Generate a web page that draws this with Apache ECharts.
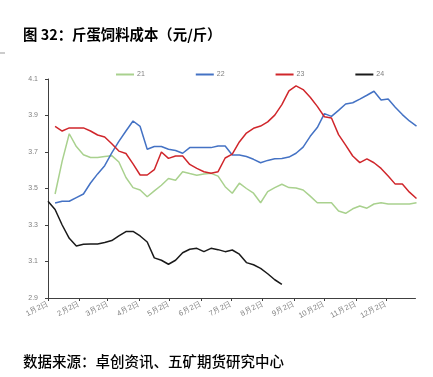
<!DOCTYPE html>
<html>
<head>
<meta charset="utf-8">
<script src="https://cdn.jsdelivr.net/npm/echarts@6/dist/echarts.min.js"></script>
<style>
html,body{margin:0;padding:0;background:#fff;}
#c{width:433px;height:377px;}
</style>
</head>
<body>
<div id="c"></div>
<script>
// Weekly values, week 0 = 1月2日, one point every 7 days
const seriesNames = ['21', '22', '23', '24'];
const s21 = [null, 3.47, 3.65, 3.80, 3.73, 3.685, 3.67, 3.67, 3.675, 3.68, 3.645, 3.56, 3.505, 3.492, 3.455, 3.487, 3.518, 3.555, 3.545, 3.592, 3.582, 3.573, 3.58, 3.583, 3.568, 3.51, 3.474, 3.529, 3.50, 3.474, 3.422, 3.483, 3.505, 3.523, 3.505, 3.503, 3.492, 3.458, 3.422, 3.422, 3.422, 3.377, 3.364, 3.389, 3.404, 3.392, 3.415, 3.422, 3.415, 3.415, 3.415, 3.415, 3.422];
const s22 = [null, 3.42, 3.43, 3.43, 3.45, 3.47, 3.53, 3.58, 3.625, 3.695, 3.758, 3.815, 3.87, 3.84, 3.715, 3.73, 3.73, 3.715, 3.708, 3.693, 3.724, 3.724, 3.724, 3.724, 3.733, 3.733, 3.684, 3.684, 3.675, 3.66, 3.641, 3.654, 3.663, 3.665, 3.672, 3.693, 3.727, 3.786, 3.834, 3.91, 3.895, 3.928, 3.963, 3.97, 3.99, 4.011, 4.033, 3.985, 3.99, 3.945, 3.905, 3.87, 3.842];
const s23 = [null, 3.84, 3.815, 3.832, 3.832, 3.832, 3.815, 3.793, 3.782, 3.745, 3.705, 3.692, 3.635, 3.574, 3.574, 3.603, 3.70, 3.665, 3.678, 3.678, 3.632, 3.61, 3.592, 3.583, 3.592, 3.667, 3.688, 3.755, 3.804, 3.83, 3.842, 3.865, 3.902, 3.96, 4.035, 4.062, 4.042, 4.0, 3.95, 3.893, 3.886, 3.795, 3.738, 3.678, 3.642, 3.662, 3.641, 3.61, 3.569, 3.524, 3.524, 3.48, 3.445];
const s24 = [3.43, 3.385, 3.30, 3.227, 3.185, 3.195, 3.196, 3.196, 3.204, 3.215, 3.24, 3.264, 3.265, 3.24, 3.207, 3.12, 3.107, 3.085, 3.107, 3.148, 3.167, 3.172, 3.154, 3.172, 3.165, 3.154, 3.163, 3.14, 3.094, 3.082, 3.062, 3.033, 3.0, 2.975];
const colors = ['#a9d18e', '#4472c4', '#d0262b', '#1a1a1a'];
const yMin = 2.9, yMax = 4.1, yStep = 0.2;
const monthDays = [31, 28, 31, 30, 31, 30, 31, 31, 30, 31, 30, 31];

// daily categories from 1月2日 to 12月31日
const categories = [];
for (let m = 0; m < 12; m++) {
  for (let d = (m === 0 ? 2 : 1); d <= monthDays[m]; d++) {
    categories.push((m + 1) + '月' + d + '日');
  }
}
const isTick = (idx, val) => /^\d+月2日$/.test(val);
const toPairs = arr => arr.map((v, i) => v == null ? null : [i * 7, v]).filter(p => p);

const chart = echarts.init(document.getElementById('c'));
const allData = [s21, s22, s23, s24];
chart.setOption({
  animation: false,
  backgroundColor: '#fff',
  textStyle: { fontFamily: 'Liberation Sans, Arial, sans-serif' },
  title: {
    text: '图 32：斤蛋饲料成本（元/斤）',
    left: 23, top: 27, padding: 0,
    textStyle: { fontSize: 14.4, fontWeight: 'bold', color: '#000', fontFamily: 'Noto Sans CJK SC' }
  },
  graphic: [
    { type: 'line', shape: { x1: 0, y1: 53, x2: 5, y2: 53 }, style: { stroke: '#999', lineWidth: 1 } },
    { type: 'text', left: 23, top: 354, style: { text: '数据来源：卓创资讯、五矿期货研究中心', fill: '#000', font: '500 14.5px "Noto Sans CJK SC"' } }
  ],
  legend: {
    data: seriesNames,
    left: 111, top: 66,
    itemWidth: 18, itemHeight: 2, itemGap: 51,
    icon: 'rect',
    textStyle: { fontSize: 7, color: '#7f7f7f', padding: [0, 0, 0, -2] }
  },
  grid: { left: 48, right: 17.5, top: 79, bottom: 79, containLabel: false },
  xAxis: {
    type: 'category',
    data: categories,
    boundaryGap: false,
    axisLine: { lineStyle: { color: '#404040', width: 1 } },
    axisTick: { interval: isTick, length: 3, lineStyle: { color: '#404040' } },
    axisLabel: { interval: isTick, rotate: 28, fontSize: 7.5, color: '#7f7f7f', margin: 5 },
    splitLine: { show: false }
  },
  yAxis: {
    type: 'value',
    min: yMin, max: yMax, interval: yStep,
    axisLine: { show: true, lineStyle: { color: '#404040', width: 1 } },
    axisTick: { show: true, length: 3, lineStyle: { color: '#404040' } },
    axisLabel: { fontSize: 7, color: '#7f7f7f', margin: 10, formatter: v => v.toFixed(1) },
    splitLine: { show: false }
  },
  series: seriesNames.map((n, k) => ({
    name: n,
    type: 'line',
    data: toPairs(allData[k]),
    showSymbol: false,
    symbol: 'none',
    color: colors[k],
    lineStyle: { width: 1.5, color: colors[k] }
  }))
});
</script>
</body>
</html>
